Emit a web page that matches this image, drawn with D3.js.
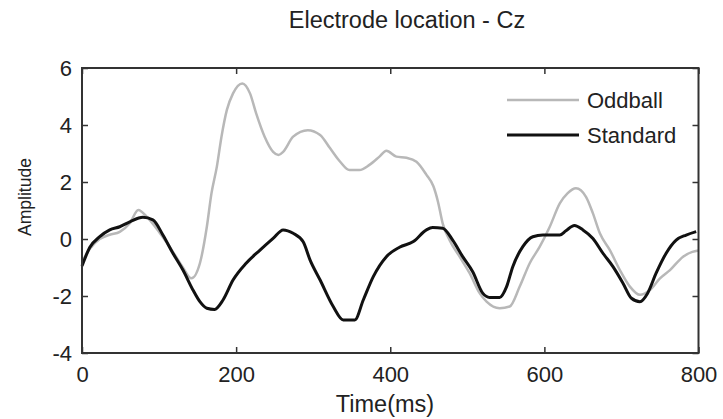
<!DOCTYPE html>
<html>
<head>
<meta charset="utf-8">
<script src="https://cdn.jsdelivr.net/npm/d3@7"></script>
<style>
  body { margin: 0; background: #fff; }
  text { font-family: Arial, "Liberation Sans", sans-serif; fill: #222; }
</style>
</head>
<body>
<script>
const w = 723;
const h = 419;
const margin = { top: 68, right: 24, bottom: 66, left: 82 };

// Standard (black) trace
const timeStd = [0, 10, 23, 36, 49, 62, 79, 92, 105, 118, 131, 144, 153, 162, 172, 183, 196, 213, 231, 248,
  261, 274, 287, 296, 309, 326, 339, 354, 365, 378, 395, 412, 430, 447, 455, 468, 481, 494, 507, 520,
  529, 542, 551, 559, 572, 585, 598, 620, 628, 639, 650, 663, 676, 689, 702, 713, 724, 734, 745, 758,
  771, 784, 797];
const standard = [-0.95, -0.3, 0.08, 0.32, 0.43, 0.6, 0.76, 0.67, 0.14, -0.5, -1.09, -1.79, -2.2, -2.43, -2.47, -2.14, -1.44, -0.85, -0.39, 0.02,
  0.32, 0.2, -0.1, -0.74, -1.44, -2.37, -2.84, -2.84, -2.14, -1.32, -0.62, -0.29, -0.09, 0.32, 0.4, 0.38, -0.04, -0.62, -1.15, -1.9,
  -2.05, -2.05, -1.67, -0.97, -0.27, 0.08, 0.14, 0.14, 0.29, 0.47, 0.32, 0.02, -0.5, -0.97, -1.55, -2.08, -2.2, -1.9, -1.2, -0.5,
  -0.04, 0.14, 0.26];

// Oddball (gray) trace
const timeOdd = [0, 10, 23, 36, 49, 62, 73, 85, 100, 118, 131, 142, 153, 162, 168, 175, 181, 188, 196, 208,
  218, 226, 237, 248, 255, 261, 274, 293, 309, 322, 335, 347, 360, 373, 386, 395, 408, 421, 434, 447,
  456, 462, 468, 477, 490, 503, 516, 525, 542, 555, 568, 581, 594, 607, 620, 630, 641, 654, 663, 672,
  685, 698, 711, 724, 737, 750, 763, 780, 792, 800];
const oddball = [-0.8, -0.35, 0.0, 0.15, 0.25, 0.55, 1.02, 0.75, 0.25, -0.45, -1.0, -1.38, -0.85, 0.43, 1.6, 2.54, 3.59, 4.53, 5.11, 5.46,
  5.11, 4.41, 3.59, 3.06, 2.95, 3.06, 3.59, 3.82, 3.65, 3.18, 2.71, 2.42, 2.42, 2.6, 2.89, 3.1, 2.89, 2.85, 2.71, 2.25,
  1.85, 1.3, 0.55, -0.04, -0.62, -1.2, -1.9, -2.2, -2.43, -2.37, -1.67, -0.85, -0.27, 0.43, 1.25, 1.6, 1.78, 1.48, 0.9, 0.2,
  -0.39, -1.09, -1.67, -1.96, -1.79, -1.38, -1.09, -0.62, -0.45, -0.4];

const xTicks = [0, 200, 400, 600, 800];
const yTicks = [-4, -2, 0, 2, 4, 6];
const seriesNames = ["Oddball", "Standard"];

const svg = d3.select("body").append("svg").attr("width", w).attr("height", h);

const x = d3.scaleLinear().domain([0, 800]).range([margin.left, w - margin.right - 0.5]);
const y = d3.scaleLinear().domain([-4, 6]).range([h - margin.bottom, margin.top]);

const line = d3.line()
  .x(d => x(d[0]))
  .y(d => y(d[1]))
  .curve(d3.curveMonotoneX);

svg.append("path")
  .datum(d3.zip(timeOdd, oddball))
  .attr("d", line)
  .attr("fill", "none")
  .attr("stroke", "#b8b8b8")
  .attr("stroke-width", 2.5);

svg.append("path")
  .datum(d3.zip(timeStd, standard))
  .attr("d", line)
  .attr("fill", "none")
  .attr("stroke", "#111")
  .attr("stroke-width", 3);

// axes, ticks pointing inward like MATLAB
const plain = d => String(d); // hyphen minus, not the unicode one
const styleAxis = g => {
  g.select(".domain").remove();
  g.selectAll(".tick line").attr("stroke", "#333").attr("stroke-width", 1.5);
  g.selectAll(".tick text").style("font-size", "22px").attr("fill", "#222");
};

svg.append("g")
  .attr("transform", `translate(0,${y(-4)})`)
  .call(d3.axisBottom(x).tickValues(xTicks).tickSize(-6).tickPadding(13).tickFormat(plain))
  .call(styleAxis);

svg.append("g")
  .attr("transform", `translate(0,${y(6)})`)
  .call(d3.axisTop(x).tickValues(xTicks).tickSize(-6).tickFormat(""))
  .call(styleAxis);

svg.append("g")
  .attr("transform", `translate(${x(0)},0)`)
  .call(d3.axisLeft(y).tickValues(yTicks).tickSize(-6).tickPadding(10).tickFormat(plain))
  .call(styleAxis);

svg.append("g")
  .attr("transform", `translate(${x(800)},0)`)
  .call(d3.axisRight(y).tickValues(yTicks).tickSize(-6).tickFormat(""))
  .call(styleAxis);

svg.append("rect")
  .attr("x", x(0))
  .attr("y", y(6))
  .attr("width", x(800) - x(0))
  .attr("height", y(-4) - y(6))
  .attr("fill", "none")
  .attr("stroke", "#333")
  .attr("stroke-width", 2);

// legend
const legendColors = ["#b8b8b8", "#111"];
const legend = svg.selectAll(".legend")
  .data(seriesNames)
  .enter()
  .append("g")
  .attr("transform", (d, i) => `translate(507,${100 + i * 35})`);

legend.append("line")
  .attr("x1", 0).attr("x2", 72)
  .attr("stroke", (d, i) => legendColors[i])
  .attr("stroke-width", (d, i) => i === 0 ? 2.5 : 3);

legend.append("text")
  .attr("x", 80)
  .attr("dy", "0.36em")
  .style("font-size", "22px")
  .text(d => d);

// labels
svg.append("text")
  .attr("x", 407)
  .attr("y", 28)
  .attr("text-anchor", "middle")
  .style("font-size", "23.5px")
  .text("Electrode location - Cz");

svg.append("text")
  .attr("x", 385)
  .attr("y", 412)
  .attr("text-anchor", "middle")
  .style("font-size", "23.5px")
  .text("Time(ms)");

svg.append("text")
  .attr("transform", "translate(31,197) rotate(-90)")
  .attr("text-anchor", "middle")
  .style("font-size", "17.5px")
  .text("Amplitude");
</script>
</body>
</html>
